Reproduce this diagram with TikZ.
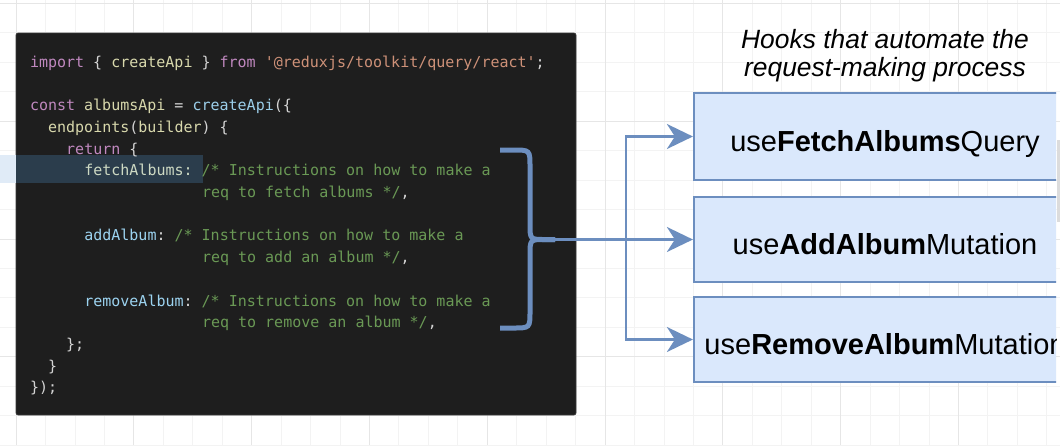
\documentclass[tikz,border=0pt]{standalone}
\usepackage{fontspec}
\setmainfont{Liberation Sans}
\newfontfamily\codefont{DejaVu Sans Mono}
\usetikzlibrary{arrows.meta}
\frenchspacing
\definecolor{gridminor}{HTML}{F3F3F3}
\definecolor{gridmajor}{HTML}{E6E6E6}
\definecolor{panelbg}{HTML}{1E1E1E}
\definecolor{panelline}{HTML}{3A3A3A}
\definecolor{selin}{HTML}{2B3D4C}
\definecolor{selout}{HTML}{E0EBF7}
\definecolor{ckw}{HTML}{C088BF}
\definecolor{cvar}{HTML}{D8D8AC}
\definecolor{cpun}{HTML}{D4D4D4}
\definecolor{cfn}{HTML}{9CCFEA}
\definecolor{cstr}{HTML}{CE9178}
\definecolor{cprop}{HTML}{9CD3F0}
\definecolor{csel}{HTML}{CDD9C3}
\definecolor{ccom}{HTML}{6A9955}
\definecolor{hookfill}{HTML}{DAE8FC}
\definecolor{hookline}{HTML}{6C8EBF}
\definecolor{scrollc}{HTML}{DCDCDC}
\newcommand\cKw[1]{\textcolor{ckw}{#1}}
\newcommand\cVar[1]{\textcolor{cvar}{#1}}
\newcommand\cFn[1]{\textcolor{cfn}{#1}}
\newcommand\cStr[1]{\textcolor{cstr}{#1}}
\newcommand\cProp[1]{\textcolor{cprop}{#1}}
\newcommand\cSel[1]{\textcolor{csel}{#1}}
\newcommand\cCom[1]{\textcolor{ccom}{#1}}
\begin{document}
\begin{tikzpicture}[x=1pt,y=-1pt,
  code/.style={anchor=base west, inner sep=0pt, outer sep=0pt, text=cpun,
    font=\codefont\fontsize{15}{18}\selectfont\frenchspacing},
  hook/.style={draw=hookline, fill=hookfill, line width=2.2pt,
    minimum width=382pt, minimum height=85pt, inner sep=0pt,
    text height=29pt, text depth=0pt, font=\fontsize{29}{34}\selectfont},
  titletext/.style={anchor=base, inner sep=0pt, font=\itshape\fontsize{26.4}{30}\selectfont},
  conn/.style={draw=hookline, line width=2.2pt},
  arr/.style={conn, -{Stealth[length=26pt,width=25pt,inset=8pt]}},
  bracestyle/.style={draw=hookline, line width=5pt},
  gminor/.style={draw=gridminor, line width=0.8pt},
  gmajor/.style={draw=gridmajor, line width=0.8pt}]
\useasboundingbox (0,0) rectangle (1060,445);
\fill[white] (0,0) rectangle (1060,445);
% background grid
\foreach \k in {0,...,35} {\draw[gminor] ({16+29.45*\k},0) -- ({16+29.45*\k},445);}
\foreach \k in {0,...,15} {\draw[gminor] (0,{3.3+29.45*\k}) -- (1060,{3.3+29.45*\k});}
\foreach \k in {0,4,...,32} {\draw[gmajor] ({16+29.45*\k},0) -- ({16+29.45*\k},445);}
\foreach \k in {0,4,8,12} {\draw[gmajor] (0,{3.3+29.45*\k}) -- (1060,{3.3+29.45*\k});}
% code panel
\draw[fill=panelbg, draw=panelline, line width=0.6pt, rounded corners=2pt] (16,33) rectangle (576,415);
% selection highlight
\fill[selout] (0,155) rectangle (16,183);
\fill[selin] (16,155) rectangle (203,183);
% code lines
\node[code] (c0) at (30,67.3) {\cKw{import} \{ \cVar{createApi} \} \cKw{from} \cStr{\textquotesingle @reduxjs/toolkit/query/react\textquotesingle};};
\node[code] (c2) at (30,110.7) {\cKw{const} \cVar{albumsApi} = \cFn{createApi}(\{};
\node[code] (c3) at (48.1,132.4) {\cVar{endpoints}(\cVar{builder}) \{};
\node[code] (c4) at (66.2,154.1) {\cKw{return} \{};
\node[code] (c5) at (84.3,175.8) {\cSel{fetchAlbums:} \cCom{/* Instructions on how to make a}};
\node[code] (c6) at (202,197.5) {\cCom{req to fetch albums */},};
\node[code] (c8) at (84.3,240.9) {\cProp{addAlbum}: \cCom{/* Instructions on how to make a}};
\node[code] (c9) at (202,262.6) {\cCom{req to add an album */},};
\node[code] (c11) at (84.3,306.0) {\cProp{removeAlbum}: \cCom{/* Instructions on how to make a}};
\node[code] (c12) at (202,327.7) {\cCom{req to remove an album */},};
\node[code] (c13) at (66.2,349.4) {\};};
\node[code] (c14) at (48.1,371.1) {\}};
\node[code] (c15) at (30,392.8) {\});};
% title
\node[titletext] (t1) at (885,48.3) {Hooks that automate the};
\node[titletext] (t2) at (885,76) {request-making process};
% hook boxes (cut off at the right edge)
\begin{scope}
\clip (0,0) rectangle (1056,445);
\node[hook, minimum height=87pt] (b1) at (885,136.5) {use\textbf{FetchAlbums}Query};
\node[hook] (b2) at (885,239.5) {use\textbf{AddAlbum}Mutation};
\node[hook] (b3) at (885,339.5) {use\textbf{RemoveAlbum}Mutation};
\end{scope}
\fill[scrollc] (1057,140) rectangle (1060,222);
% brace
\coordinate (tip) at (555,239.5);
\coordinate (junc) at (626,239.5);
\draw[bracestyle] (500,150) -- (513,150) .. controls (530,150) .. (530,167) -- (530,224) .. controls (530,239.5) .. (545,239.5) -- (tip);
\draw[bracestyle] (500,328) -- (513,328) .. controls (530,328) .. (530,311) -- (530,255) .. controls (530,239.5) .. (545,239.5) -- (tip);
% connectors
\draw[arr] (tip) -- (b2.west);
\draw[arr] (junc) |- (b1.west);
\draw[arr] (junc) |- (b3.west);
\end{tikzpicture}
\end{document}
